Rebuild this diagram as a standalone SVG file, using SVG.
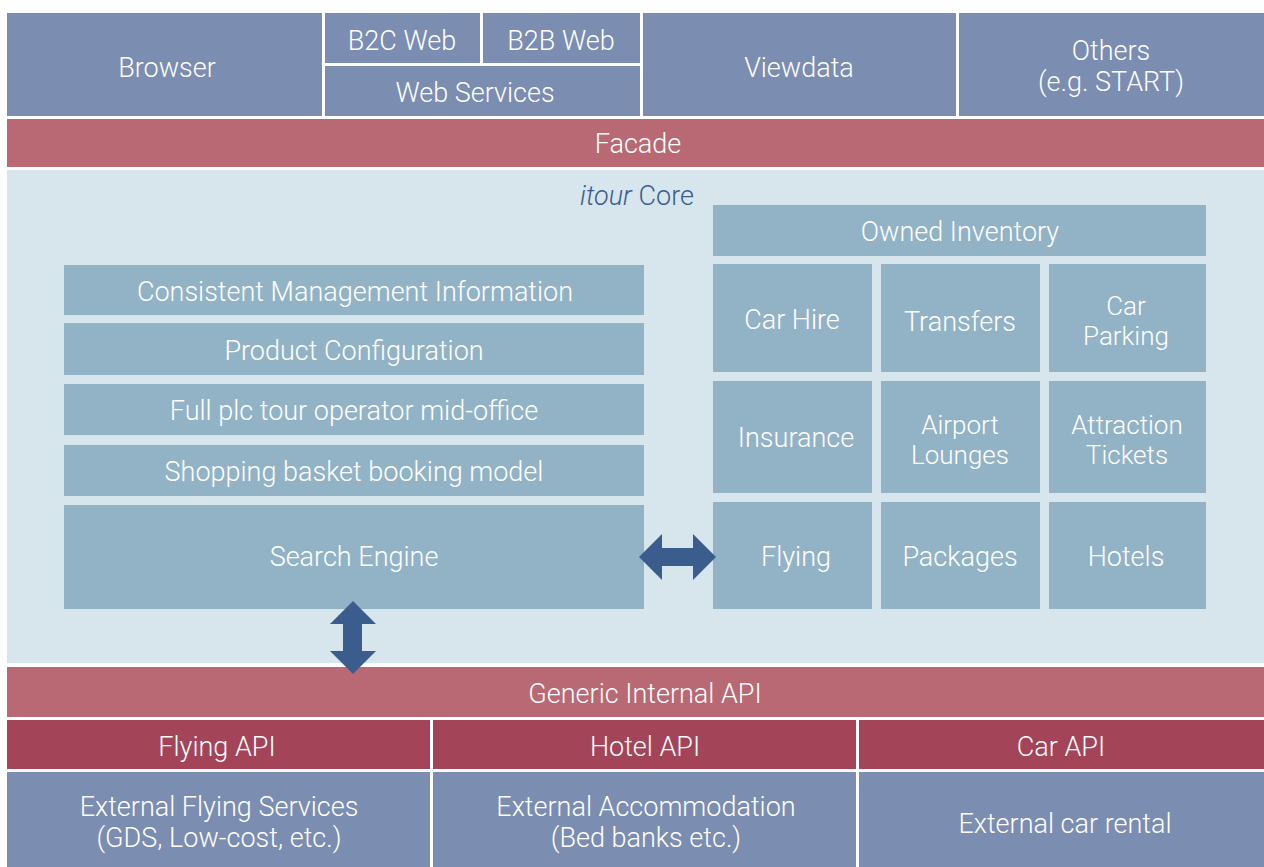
<svg xmlns="http://www.w3.org/2000/svg" width="1264" height="867" viewBox="0 0 1264 867">
<style>
text{font-family:Roboto,"Liberation Sans",Arial,sans-serif;font-weight:300;font-size:27px;fill:#ffffff;text-anchor:middle}
text.two{font-size:26px}
.top{fill:#7b8db0}
.red{fill:#b86973}
.dred{fill:#a34459}
.core{fill:#d7e6ed}
.inner{fill:#92b3c6}
.arrow{fill:#3b5d8d}
</style>
<rect x="0" y="0" width="1264" height="867" fill="#ffffff"/>
<g id="browser"><rect class="top" x="7" y="13" width="315" height="103"/><text x="167" y="77">Browser</text></g>
<g id="b2c"><rect class="top" x="325" y="13" width="155" height="50"/><text x="402" y="50">B2C Web</text></g>
<g id="b2b"><rect class="top" x="483" y="13" width="157" height="50"/><text x="561" y="50">B2B Web</text></g>
<g id="webservices"><rect class="top" x="325" y="66" width="315" height="50"/><text x="475" y="102">Web Services</text></g>
<g id="viewdata"><rect class="top" x="643" y="13" width="313" height="103"/><text x="799" y="77">Viewdata</text></g>
<g id="others"><rect class="top" x="959" y="13" width="305" height="103"/><text x="1111" y="60">Others</text><text x="1111" y="91">(e.g. START)</text></g>
<g id="facade"><rect class="red" x="7" y="119" width="1257" height="48"/><text x="638" y="153">Facade</text></g>
<g id="core"><rect class="core" x="7" y="170" width="1257" height="493"/><text x="637" y="205"><tspan font-style="italic" style="fill:#3b5d8d">itour</tspan><tspan style="fill:#3b5d8d"> Core</tspan></text></g>
<g id="owned"><rect class="inner" x="713" y="205" width="493" height="51"/><text x="960" y="241">Owned Inventory</text></g>
<g id="carhire"><rect class="inner" x="713" y="264" width="159" height="108"/><text x="792" y="329">Car Hire</text></g>
<g id="transfers"><rect class="inner" x="881" y="264" width="159" height="108"/><text x="960" y="331">Transfers</text></g>
<g id="carparking"><rect class="inner" x="1049" y="264" width="157" height="108"/><text class="two" x="1126" y="315">Car</text><text class="two" x="1126" y="345">Parking</text></g>
<g id="insurance"><rect class="inner" x="713" y="381" width="159" height="112"/><text x="796" y="447">Insurance</text></g>
<g id="lounges"><rect class="inner" x="881" y="381" width="159" height="112"/><text class="two" x="960" y="434">Airport</text><text class="two" x="960" y="464">Lounges</text></g>
<g id="tickets"><rect class="inner" x="1049" y="381" width="157" height="112"/><text class="two" x="1127" y="434">Attraction</text><text class="two" x="1127" y="464">Tickets</text></g>
<g id="flying"><rect class="inner" x="713" y="502" width="159" height="107"/><text x="796" y="566">Flying</text></g>
<g id="packages"><rect class="inner" x="881" y="502" width="159" height="107"/><text x="960" y="566">Packages</text></g>
<g id="hotels"><rect class="inner" x="1049" y="502" width="157" height="107"/><text x="1126" y="566">Hotels</text></g>
<g id="cmi"><rect class="inner" x="64" y="265" width="580" height="50"/><text x="355" y="301">Consistent Management Information</text></g>
<g id="prodconf"><rect class="inner" x="64" y="323" width="580" height="52"/><text x="354" y="360">Product Configuration</text></g>
<g id="midoffice"><rect class="inner" x="64" y="384" width="580" height="51"/><text x="354" y="420">Full plc tour operator mid-office</text></g>
<g id="basket"><rect class="inner" x="64" y="445" width="580" height="51"/><text x="354" y="481">Shopping basket booking model</text></g>
<g id="search"><rect class="inner" x="64" y="505" width="580" height="104"/><text x="354" y="566">Search Engine</text></g>
<g id="generic"><rect class="red" x="7" y="667" width="1257" height="50"/><text x="645" y="703">Generic Internal API</text></g>
<g id="flyingapi"><rect class="dred" x="7" y="720" width="423" height="49"/><text x="217" y="756">Flying API</text></g>
<g id="hotelapi"><rect class="dred" x="433" y="720" width="423" height="49"/><text x="645" y="756">Hotel API</text></g>
<g id="carapi"><rect class="dred" x="859" y="720" width="405" height="49"/><text x="1061" y="756">Car API</text></g>
<g id="extflying"><rect class="top" x="7" y="772" width="423" height="95"/><text x="219" y="816">External Flying Services</text><text x="219" y="847">(GDS, Low-cost, etc.)</text></g>
<g id="extaccom"><rect class="top" x="433" y="772" width="423" height="95"/><text x="646" y="816">External Accommodation</text><text x="646" y="847">(Bed banks etc.)</text></g>
<g id="extcar"><rect class="top" x="859" y="772" width="405" height="95"/><text x="1065" y="833">External car rental</text></g>
<g id="connectors">
<polygon class="arrow" points="639,557 662,534 662,548 693,548 693,534 716,557 693,580 693,566 662,566 662,580"/>
<polygon class="arrow" points="353,601 376,624 362,624 362,651 376,651 353,674 330,651 343,651 343,624 330,624"/>
</g>
</svg>
